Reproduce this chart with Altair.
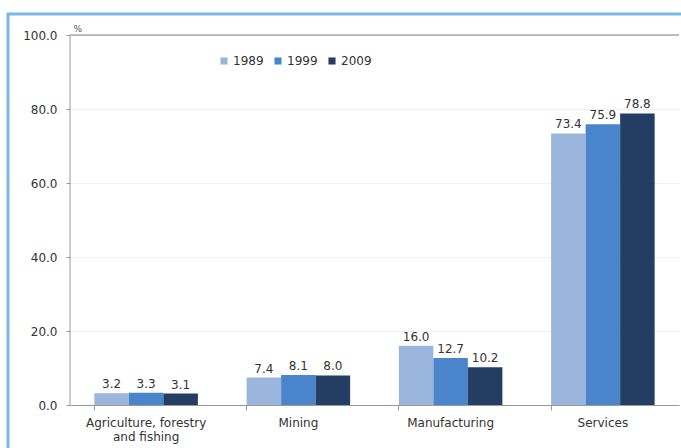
import altair as alt
import pandas as pd

sectors = ["Agriculture, forestry and fishing", "Mining", "Manufacturing", "Services"]
years = ["1989", "1999", "2009"]
v1989 = [3.2, 7.4, 16.0, 73.4]
v1999 = [3.3, 8.1, 12.7, 75.9]
v2009 = [3.1, 8.0, 10.2, 78.8]
colors = ["#9AB6DD", "#4A85CC", "#233D63"]
y_ticks = [0, 20, 40, 60, 80, 100]

rows = []
for yr, vals in zip(years, [v1989, v1999, v2009]):
    for s, v in zip(sectors, vals):
        rows.append({"sector": s, "year": yr, "value": v})
df = pd.DataFrame(rows)

FONT = "DejaVu Sans"
W, H = 609, 370

x_enc = alt.X("sector:N", sort=sectors,
              scale=alt.Scale(paddingInner=0.32, paddingOuter=0.16),
              axis=alt.Axis(title=None, labelFont=FONT, labelFontSize=12,
                            labelColor="#333333", labelAngle=0, labelPadding=7,
                            tickSize=5, tickColor="#999999", bandPosition=0,
                            grid=False, domainColor="#999999",
                            labelExpr="datum.value == 'Agriculture, forestry and fishing' ? ['Agriculture, forestry', 'and fishing'] : datum.value"))
y_enc = alt.Y("value:Q", scale=alt.Scale(domain=[0, 100], nice=False),
              axis=alt.Axis(values=y_ticks, format=".1f", title="%",
                            titleAngle=0, titleX=3, titleY=-2, titleAlign="left",
                            titleFont=FONT, titleFontSize=9, titleFontWeight="normal",
                            titleColor="#555555",
                            labelFont=FONT, labelFontSize=12, labelColor="#333333",
                            labelPadding=9, tickSize=4, tickColor="#999999",
                            domain=False, gridColor="#F0F0F0"))
xo_enc = alt.XOffset("year:N", sort=years, scale=alt.Scale(paddingInner=0, paddingOuter=0))

base = alt.Chart(df).encode(x=x_enc, y=y_enc, xOffset=xo_enc)

bars = base.mark_bar().encode(
    color=alt.Color("year:N", sort=years,
                    scale=alt.Scale(domain=years, range=colors),
                    legend=alt.Legend(title=None, orient="none", direction="horizontal",
                                      legendX=148, legendY=20, symbolType="square",
                                      symbolSize=50, symbolStrokeWidth=0,
                                      labelFont=FONT, labelFontSize=12,
                                      labelColor="#333333", columnPadding=8,
                                      labelOffset=3)),
)

labels = base.mark_text(dy=-9, font=FONT, fontSize=12, color="#333333").encode(
    text=alt.Text("value:Q", format=".1f"),
)

top_line = alt.Chart(pd.DataFrame({"a": [0]})).mark_rule(
    color="#AAAAAA", strokeWidth=1.5).encode(
    x=alt.value(0), x2=alt.value(W), y=alt.value(0))

y_line = alt.Chart(pd.DataFrame({"a": [0]})).mark_rule(
    color="#999999", strokeWidth=1).encode(
    x=alt.value(0), y=alt.value(0), y2=alt.value(H))

border_top = alt.Chart(pd.DataFrame({"a": [0]})).mark_rule(
    color="#74B9E7", strokeWidth=3, clip=False).encode(
    x=alt.value(-63), x2=alt.value(W + 20), y=alt.value(-21))
border_left = alt.Chart(pd.DataFrame({"a": [0]})).mark_rule(
    color="#74B9E7", strokeWidth=3, clip=False).encode(
    x=alt.value(-62), y=alt.value(-22), y2=alt.value(H + 60))

chart = alt.layer(bars, labels, top_line, y_line, border_top, border_left).properties(
    width=W, height=H,
    autosize=alt.AutoSizeParams(type="none"),
    padding={"left": 70, "top": 35, "right": 2, "bottom": 43},
    background="white",
).configure_view(stroke=None, strokeWidth=0)

chart.save("out.html", embed_options={"renderer": "svg", "actions": False})
